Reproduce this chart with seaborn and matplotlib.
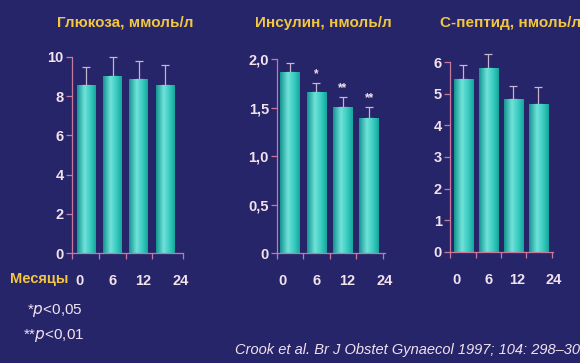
import numpy as np
import pandas as pd
import matplotlib.pyplot as plt
import seaborn as sns
from matplotlib.colors import LinearSegmentedColormap

# Данные
months = ['0', '6', '12', '24']
glucose = [8.57, 9.03, 8.89, 8.57]
glucose_top = [9.5, 9.98, 9.8, 9.6]
insulin = [1.87, 1.66, 1.51, 1.39]
insulin_top = [1.96, 1.75, 1.61, 1.51]
cpeptide = [5.46, 5.82, 4.82, 4.67]
cpeptide_top = [5.9, 6.27, 5.25, 5.2]
insulin_marks = ['', '*', '**', '**']

titles = ['Глюкоза, ммоль/л', 'Инсулин, нмоль/л', 'С-пептид, нмоль/л']
yticks = [[0, 2, 4, 6, 8, 10], [0, 0.5, 1.0, 1.5, 2.0], [0, 1, 2, 3, 4, 5, 6]]
yticklabels = [['0', '2', '4', '6', '8', '10'],
               ['0', '0,5', '1,0', '1,5', '2,0'],
               ['0', '1', '2', '3', '4', '5', '6']]
label_pos = [-0.27, 1.0, 2.17, 3.6]

BG = '#26256a'
AXIS = '#c8789a'
TXT = '#f2e2ee'
YEL = '#f2c63e'
ERR = '#c8b4cc'

sns.set_style('ticks')
plt.rcParams['font.family'] = ['Liberation Sans', 'DejaVu Sans']

fig = plt.figure(figsize=(5.8, 3.63), dpi=100, facecolor=BG)

# позиции осей [left, bottom, width, height]
boxes = [[0.124, 0.303, 0.191, 0.540],
         [0.478, 0.303, 0.186, 0.534],
         [0.776, 0.306, 0.178, 0.523]]
xlims = [(-0.55, 3.67), (-0.48, 3.52), (-0.53, 3.53)]
widths = [0.72, 0.74, 0.77]
title_x = [0.098, 0.44, 0.759]

grad = LinearSegmentedColormap.from_list(
    'teal', [(0, '#139690'), (0.4, '#70e2da'), (0.75, '#34c8bc'), (1, '#16a69c')])
gimg = np.linspace(0, 1, 64).reshape(1, -1)

series = [(glucose, glucose_top), (insulin, insulin_top), (cpeptide, cpeptide_top)]

for i, (vals, tops) in enumerate(series):
    ax = fig.add_axes(boxes[i])
    ax.set_facecolor(BG)
    df = pd.DataFrame({'month': months, 'value': vals})
    sns.barplot(data=df, x='month', y='value', order=months, color='#34c8bc',
                width=widths[i], errorbar=None, ax=ax, edgecolor='none')
    # градиент внутри столбиков
    for p in ax.patches:
        x0, y0 = p.get_x(), p.get_y()
        im = ax.imshow(gimg, cmap=grad, aspect='auto', zorder=2,
                       extent=[x0, x0 + p.get_width(), y0, y0 + p.get_height()])
        im.set_clip_path(p)
    xs = np.arange(len(months))
    up = np.array(tops) - np.array(vals)
    eb = ax.errorbar(xs, vals, yerr=[np.zeros(len(vals)), up], fmt='none',
                     ecolor=ERR, elinewidth=0.9, capsize=3, capthick=0.9, zorder=1)
    for art in eb.lines[1] + eb.lines[2]:
        art.set_clip_on(False)
    if i == 1:
        for x, t, m in zip(xs, tops, insulin_marks):
            if m:
                ax.annotate(m, (x, t), xytext=(0, 2), textcoords='offset points',
                            ha='center', va='bottom', color=TXT, fontsize=8.5,
                            fontweight='bold')

    ax.set_xlim(*xlims[i])
    ax.set_ylim(0, yticks[i][-1])
    ax.set_yticks(yticks[i], yticklabels[i])
    ax.set_xticks(label_pos, months)
    ax.set_xticks([xlims[i][0], 0.5, 1.5, 2.5, xlims[i][1]], minor=True)
    ax.set_xlabel('')
    ax.set_ylabel('')
    for s in ['top', 'right']:
        ax.spines[s].set_visible(False)
    for s in ['left', 'bottom']:
        ax.spines[s].set_color(AXIS)
        ax.spines[s].set_linewidth(0.9)
    ax.tick_params(axis='x', which='major', length=0, pad=15, labelsize=10.5,
                   labelcolor=TXT)
    ax.tick_params(axis='x', which='minor', length=4, color=AXIS, width=0.9)
    ax.tick_params(axis='y', length=4, color=AXIS, width=0.9, pad=2,
                   labelsize=10.5, labelcolor=TXT)
    for lab in ax.get_xticklabels() + ax.get_yticklabels():
        lab.set_fontweight('bold')
    fig.text(title_x[i], 0.937, titles[i], color=YEL, fontsize=11,
             fontweight='bold', ha='left', va='center')

fig.text(0.017, 0.231, 'Месяцы', color=YEL, fontsize=10.5, fontweight='bold',
         ha='left', va='center')
fig.text(0.046, 0.146, '*$\\it{p}$<0,05', color=TXT, fontsize=11,
         ha='left', va='center')
fig.text(0.040, 0.077, '**$\\it{p}$<0,01', color=TXT, fontsize=11,
         ha='left', va='center')
fig.text(0.405, 0.036, 'Crook et al. Br J Obstet Gynaecol 1997; 104: 298–302',
         color=TXT, fontsize=10.5, style='italic', ha='left', va='center')

fig.savefig('out.png', dpi=100, facecolor=BG)
